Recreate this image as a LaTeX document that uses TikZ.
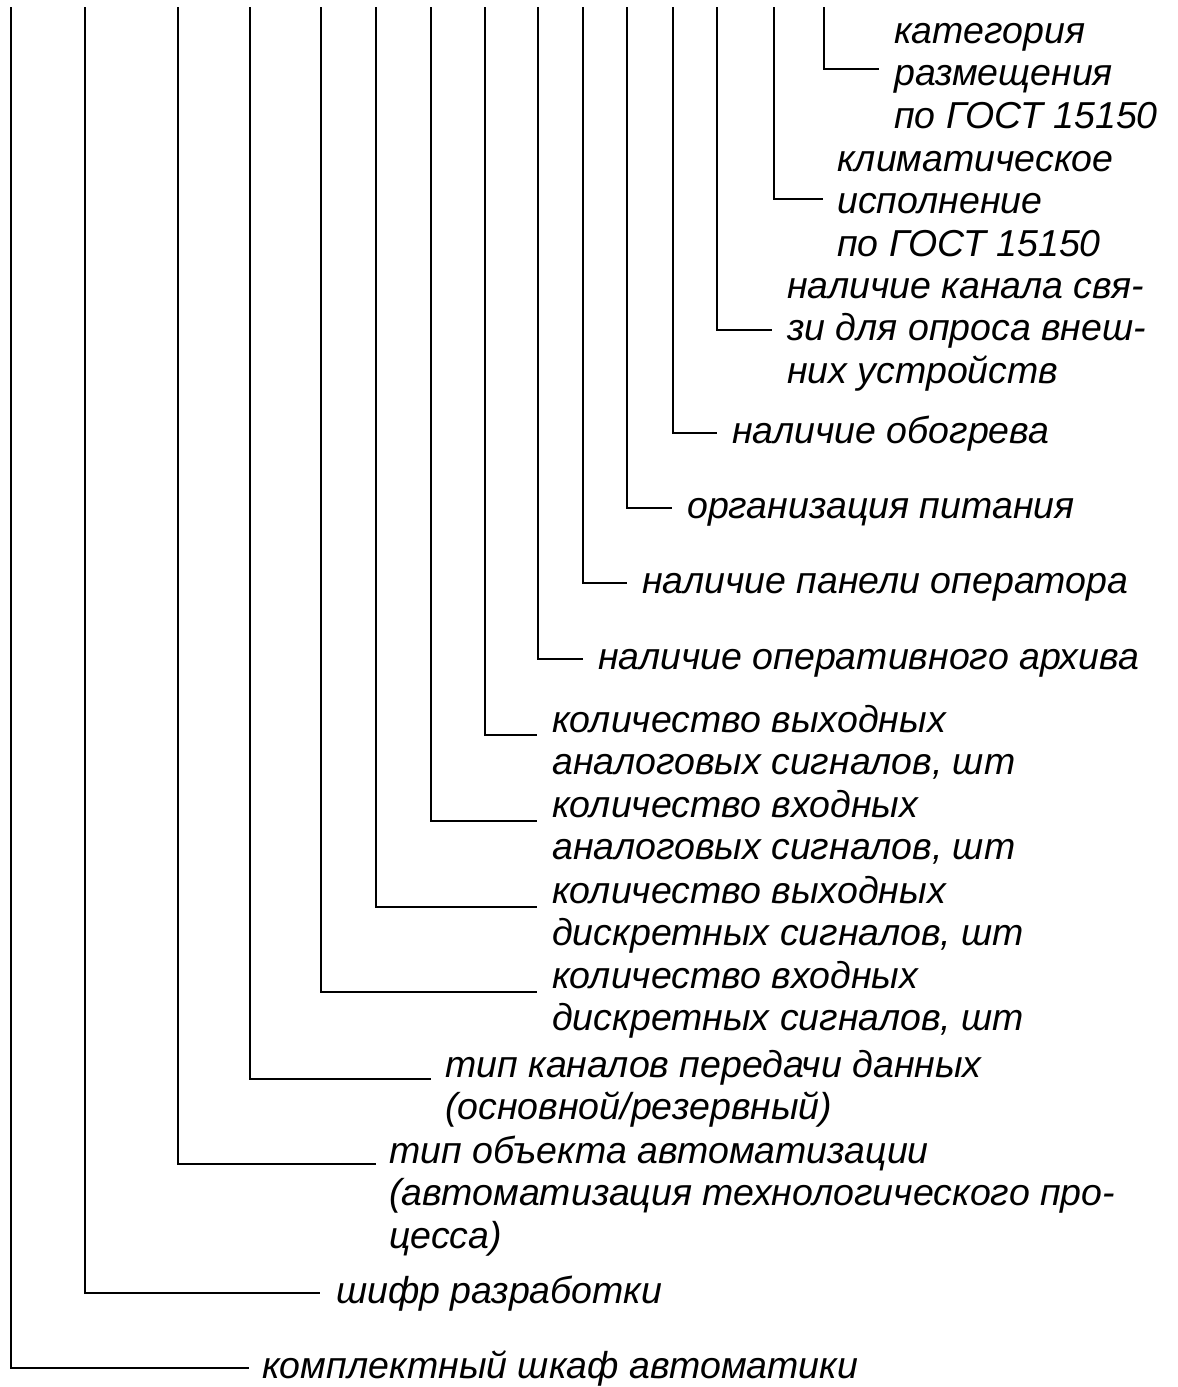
\documentclass[tikz,border=0pt]{standalone}
\usepackage{fontspec}
\setmainfont{Liberation Sans}
\usetikzlibrary{calc}
\def\drawleg{\draw[line width=2.7pt]}
\def\legnode{\node[anchor=base west,inner sep=0pt,align=left,font=\itshape\fontsize{37.5}{42.5}\selectfont]}

\begin{document}
\begin{tikzpicture}[x=1pt,y=-1pt]
\useasboundingbox (0,0) rectangle (1178,1387);
\coordinate (top) at (0,7); % all leader lines start at this height

% -------- labels (a node of several lines sits on its last line) ---------
\legnode (kat) at (894,128) {категория\\размещения\\по ГОСТ 15150};
\legnode (klim) at (837,256) {климатическое\\исполнение\\по ГОСТ 15150};
\legnode (svyaz) at (787,383) {наличие канала свя-\\зи для опроса внеш-\\них устройств};
\legnode (obogr) at (732,443) {наличие обогрева};
\legnode (pit) at (687,518) {организация питания};
\legnode (panel) at (642,593) {наличие панели оператора};
\legnode (arh) at (598,669) {наличие оперативного архива};
\legnode (ao) at (552,774.5) {количество выходных\\аналоговых сигналов, шт};
\legnode (ai) at (552,859.5) {количество входных\\аналоговых сигналов, шт};
\legnode (do) at (552,945.5) {количество выходных\\дискретных сигналов, шт};
\legnode (di) at (552,1030.5) {количество входных\\дискретных сигналов, шт};
\legnode (kan) at (445,1119.5) {тип каналов передачи данных\\(основной/резервный)};
\legnode (obj) at (389,1248) {тип объекта автоматизации\\(автоматизация технологического про-\\цесса)};
\legnode (shifr) at (336,1303) {шифр разработки};
\legnode (shkaf) at (262,1378) {комплектный шкаф автоматики};

% -------- leader lines: top end and elbow end of each one ---------
\coordinate (top_kat) at ($ (top) + (824,0) $);
\coordinate (elbow_kat) at (879,69);
\coordinate (top_klim) at ($ (top) + (774,0) $);
\coordinate (elbow_klim) at (823,199);
\coordinate (top_svyaz) at ($ (top) + (717,0) $);
\coordinate (elbow_svyaz) at (772,330);
\coordinate (top_obogr) at ($ (top) + (673,0) $);
\coordinate (elbow_obogr) at (717,433);
\coordinate (top_pit) at ($ (top) + (627,0) $);
\coordinate (elbow_pit) at (672,508);
\coordinate (top_panel) at ($ (top) + (583,0) $);
\coordinate (elbow_panel) at (627,583);
\coordinate (top_arh) at ($ (top) + (538,0) $);
\coordinate (elbow_arh) at (583,659);
\coordinate (top_ao) at ($ (top) + (485,0) $);
\coordinate (elbow_ao) at (537,735);
\coordinate (top_ai) at ($ (top) + (431,0) $);
\coordinate (elbow_ai) at (537,821);
\coordinate (top_do) at ($ (top) + (376,0) $);
\coordinate (elbow_do) at (537,907);
\coordinate (top_di) at ($ (top) + (321,0) $);
\coordinate (elbow_di) at (537,992);
\coordinate (top_kan) at ($ (top) + (250,0) $);
\coordinate (elbow_kan) at (431,1079);
\coordinate (top_obj) at ($ (top) + (178,0) $);
\coordinate (elbow_obj) at (376,1164);
\coordinate (top_shifr) at ($ (top) + (85,0) $);
\coordinate (elbow_shifr) at (320,1293);
\coordinate (top_shkaf) at ($ (top) + (11,0) $);
\coordinate (elbow_shkaf) at (249,1368);

\drawleg (top_kat) |- (elbow_kat);
\drawleg (top_klim) |- (elbow_klim);
\drawleg (top_svyaz) |- (elbow_svyaz);
\drawleg (top_obogr) |- (elbow_obogr);
\drawleg (top_pit) |- (elbow_pit);
\drawleg (top_panel) |- (elbow_panel);
\drawleg (top_arh) |- (elbow_arh);
\drawleg (top_ao) |- (elbow_ao);
\drawleg (top_ai) |- (elbow_ai);
\drawleg (top_do) |- (elbow_do);
\drawleg (top_di) |- (elbow_di);
\drawleg (top_kan) |- (elbow_kan);
\drawleg (top_obj) |- (elbow_obj);
\drawleg (top_shifr) |- (elbow_shifr);
\drawleg (top_shkaf) |- (elbow_shkaf);
\end{tikzpicture}
\end{document}
